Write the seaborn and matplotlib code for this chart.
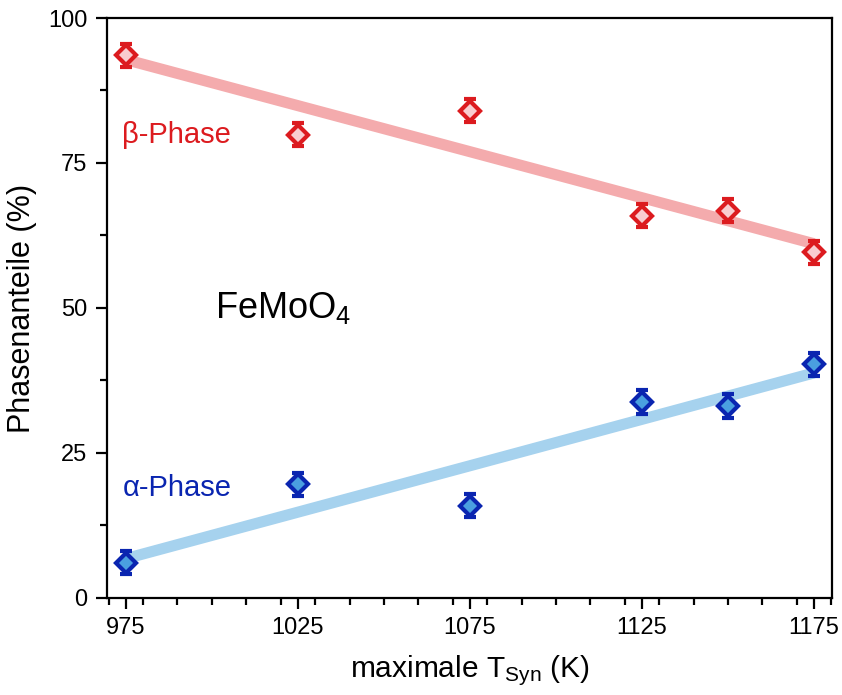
import numpy as np
import pandas as pd
import matplotlib
matplotlib.use("Agg")
import matplotlib.pyplot as plt
import seaborn as sns
from matplotlib.ticker import MultipleLocator

# data
temps = [975, 1025, 1075, 1125, 1150, 1175]
beta_vals = [93.6, 79.9, 84.0, 65.9, 66.8, 59.6]
alpha_vals = [6.1, 19.6, 15.9, 33.8, 33.1, 40.3]
beta_err = [2.0, 2.0, 2.0, 2.0, 2.0, 2.0]
alpha_err = [2.0, 2.0, 2.0, 2.0, 2.0, 2.0]
xticks = [975, 1025, 1075, 1125, 1175]
yticks = [0, 25, 50, 75, 100]

df = pd.DataFrame({"T": temps, "beta": beta_vals, "alpha": alpha_vals})

sns.set_theme(style="ticks")
plt.rcParams["font.family"] = ["Liberation Sans", "DejaVu Sans"]
plt.rcParams["mathtext.fontset"] = "custom"
plt.rcParams["mathtext.rm"] = "Liberation Sans"
plt.rcParams["mathtext.it"] = "Liberation Sans"
plt.rcParams["text.color"] = "black"
plt.rcParams["axes.labelcolor"] = "black"

fig = plt.figure(figsize=(8.42, 6.95), dpi=100)
ax = fig.add_axes([0.127, 0.1396, 0.861, 0.8345])

red_edge = "#dc1b1f"
red_face = "#f9cdd0"
red_line = "#f4abad"
blue_edge = "#0a25b0"
blue_face = "#4a9fe0"
blue_line = "#a6d2ee"

sns.regplot(data=df, x="T", y="beta", ci=None, scatter=False, ax=ax,
            line_kws=dict(color=red_line, lw=8, solid_capstyle="butt", zorder=1))
sns.regplot(data=df, x="T", y="alpha", ci=None, scatter=False, ax=ax,
            line_kws=dict(color=blue_line, lw=8, solid_capstyle="butt", zorder=1))

ax.errorbar(temps, beta_vals, yerr=beta_err, fmt="D", ms=10, mfc=red_face,
            mec=red_edge, mew=3, ecolor=red_edge, elinewidth=2.4,
            capsize=4, capthick=2.4, zorder=3)
ax.errorbar(temps, alpha_vals, yerr=alpha_err, fmt="D", ms=10, mfc=blue_face,
            mec=blue_edge, mew=3, ecolor=blue_edge, elinewidth=2.4,
            capsize=4, capthick=2.4, zorder=3)

ax.set_xlim(969.5, 1180.2)
ax.set_ylim(0, 100)
ax.set_xticks(xticks)
ax.set_yticks(yticks)
ax.xaxis.set_minor_locator(MultipleLocator(10))
ax.yaxis.set_minor_locator(MultipleLocator(12.5))
ax.tick_params(which="major", direction="out", length=8, width=1.6,
               labelsize=17, color="black", labelcolor="black", pad=6)
ax.tick_params(which="minor", direction="out", length=5, width=1.6, color="black")
for s in ax.spines.values():
    s.set_linewidth(1.6)
    s.set_color("black")

ax.set_xlabel("maximale T$_{\\mathrm{Syn}}$ (K)", fontsize=21.5, labelpad=10, color="black")
ax.set_ylabel("Phasenanteile (%)", fontsize=22, labelpad=8, color="black")

ax.text(974, 79.8, "β-Phase", color=red_edge, fontsize=21, va="center", ha="left")
ax.text(974, 19.0, "α-Phase", color=blue_edge, fontsize=21, va="center", ha="left")
ax.text(1001, 50, "FeMoO$_4$", color="black", fontsize=26, va="center", ha="left")

fig.savefig("out.png", dpi=100)
